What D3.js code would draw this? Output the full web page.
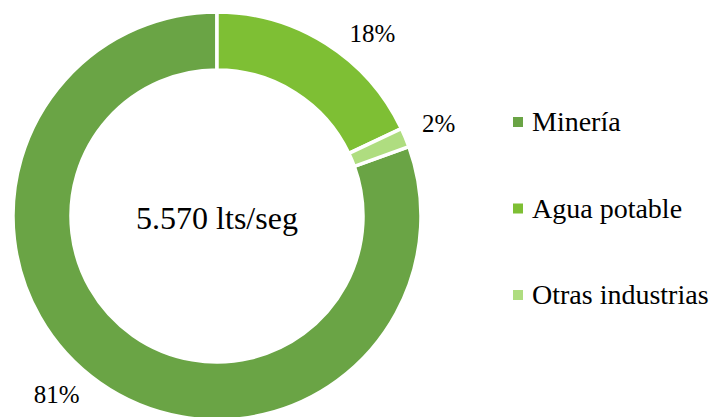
<!DOCTYPE html>
<html>
<head>
<meta charset="utf-8">
<script src="https://cdnjs.cloudflare.com/ajax/libs/d3/7.8.5/d3.min.js"></script>
<style>
  body { margin: 0; background: #fff; }
</style>
</head>
<body>
<div id="chart"></div>
<script>
// data (lts/seg)
var categories = ["Minería", "Agua potable", "Otras industrias"]
var values = [4485, 1000, 85]
var pctLabels = ["81%", "18%", "2%"]
var colors = ["#6aa445", "#7ebf34", "#afdd80"]
var totalLabel = "5.570 lts/seg"

var font = "'Liberation Serif', 'Times New Roman', Tinos, 'DejaVu Serif', serif"

function donut(){
  var width = 718,
      height = 417

  var svg = d3.select("#chart").append("svg")
      .attr("width", width)
      .attr("height", height)
      .attr("font-family", font)

  var g = svg.append("g")
      .attr("transform", "translate(217,216)")

  var total = d3.sum(values)
  // Minería ends at 12 o'clock, so start after the other two slices
  var start = (1 - values[0] / total) * 2 * Math.PI

  var pie = d3.pie()
      .sort(null)
      .startAngle(start)
      .endAngle(start + 2 * Math.PI)

  var arc = d3.arc()
      .innerRadius(146)
      .outerRadius(204)

  var arcs = pie(values)

  g.selectAll("path")
      .data(arcs)
    .enter().append("path")
      .attr("d", arc)
      .attr("fill", function(d, i){ return colors[i] })
      .attr("stroke", "#fff")
      .attr("stroke-width", 3.5)

  // labels outside the ring, nudged a little like excel's best fit
  var nudge = [0.12, 0.14, 0]
  g.selectAll(".pct")
      .data(arcs)
    .enter().append("text")
      .attr("class", "pct")
      .attr("text-anchor", "middle")
      .attr("dy", "0.35em")
      .attr("font-family", font)
      .style("font-size", "25px")
      .attr("transform", function(d, i){
        var a = (d.startAngle + d.endAngle) / 2 + nudge[i]
        return "translate(" + (240 * Math.sin(a)) + "," + (-240 * Math.cos(a)) + ")"
      })
      .text(function(d, i){ return pctLabels[i] })

  g.append("text")
      .attr("text-anchor", "middle")
      .attr("y", 13)
      .attr("font-family", font)
      .style("font-size", "32px")
      .text(totalLabel)

  // legend
  var legend = svg.append("g")
      .attr("transform", "translate(513,117)")

  var item = legend.selectAll("g")
      .data(categories)
    .enter().append("g")
      .attr("transform", function(d, i){ return "translate(0," + (i * 86.5) + ")" })

  item.append("rect")
      .attr("width", 10)
      .attr("height", 10)
      .attr("fill", function(d, i){ return colors[i] })

  item.append("text")
      .attr("x", 19)
      .attr("y", 14)
      .attr("font-family", font)
      .style("font-size", "28px")
      .text(function(d){ return d })
}
donut()
</script>
</body>
</html>
